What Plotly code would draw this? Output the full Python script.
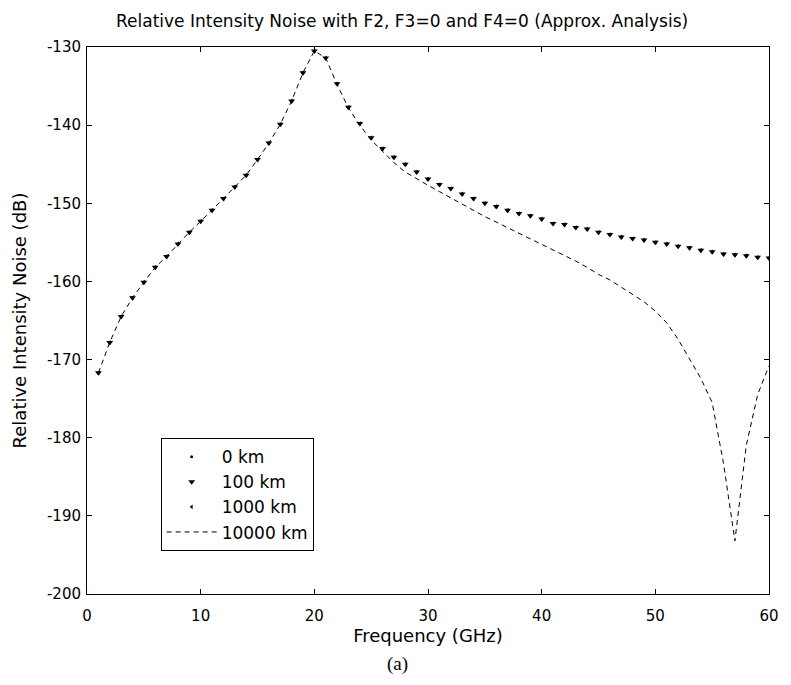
import plotly.graph_objects as go

freq = list(range(1, 61))

# 0 km, 100 km, 1000 km curves (coincide on the plot)
rin_short = [-171.7, -167.8, -164.5, -162.1, -160.1, -158.2, -156.8, -155.2, -153.7, -152.3,
             -150.9, -149.4, -147.9, -146.4, -144.4, -142.3, -139.9, -136.9, -133.3, -130.5,
             -131.4, -134.7, -137.7, -139.8, -141.6, -143.0, -144.1, -145.0, -146.0, -146.9,
             -147.6, -148.1, -148.8, -149.4, -150.0, -150.4, -150.9, -151.3, -151.6, -152.0,
             -152.6, -152.7, -153.1, -153.3, -153.7, -154.0, -154.3, -154.5, -154.7, -155.0,
             -155.2, -155.5, -155.7, -156.0, -156.2, -156.5, -156.6, -156.7, -156.9, -157.0]

rin_10000 = [-171.7, -167.8, -164.5, -162.1, -160.1, -158.2, -156.8, -155.2, -153.7, -152.3,
             -150.9, -149.4, -147.9, -146.4, -144.4, -142.3, -139.9, -136.9, -133.3, -130.5,
             -131.4, -134.8, -137.8, -140.0, -141.9, -143.4, -144.8, -146.0, -146.9, -147.7,
             -148.5, -149.3, -150.2, -151.0, -151.7, -152.4, -153.1, -153.8, -154.5, -155.2,
             -156.0, -156.7, -157.4, -158.2, -159.1, -159.8, -160.7, -161.6, -162.6, -163.8,
             -165.3, -167.4, -169.9, -172.4, -175.5, -183.3, -193.2, -181.0, -174.5, -170.8]

x_ticks = [0, 10, 20, 30, 40, 50, 60]
y_ticks = [-200, -190, -180, -170, -160, -150, -140, -130]
y_ticktext = ["-200", "-190", "-180", "-170", "-160", "-150", "-140", "-130"]

FONT = "DejaVu Sans"

fig = go.Figure()
fig.add_trace(go.Scatter(x=freq, y=rin_short, mode="markers", name="0 km",
                         marker=dict(symbol="circle", size=3, color="black")))
fig.add_trace(go.Scatter(x=freq, y=rin_short, mode="markers", name="100 km",
                         marker=dict(symbol="triangle-down", size=6, color="black")))
fig.add_trace(go.Scatter(x=freq, y=rin_short, mode="markers", name="1000 km",
                         marker=dict(symbol="triangle-left", size=4, color="black")))
fig.add_trace(go.Scatter(x=freq, y=rin_10000, mode="lines", name="10000 km",
                         line=dict(color="black", width=1, dash="5px,4px")))

axis_common = dict(showline=True, linecolor="black", linewidth=1, mirror="allticks",
                   ticks="inside", ticklen=5, tickcolor="black", showgrid=False,
                   zeroline=False, tickfont=dict(family=FONT, size=15, color="black"))

fig.update_layout(
    width=791, height=685,
    margin=dict(l=87, r=12, t=47, b=91),
    paper_bgcolor="white", plot_bgcolor="white",
    font=dict(family=FONT, color="black"),
    showlegend=True,
    legend=dict(x=0.108, y=0.285, xanchor="left", yanchor="top",
                bordercolor="black", borderwidth=1, bgcolor="white",
                itemwidth=50,
                font=dict(family=FONT, size=17), tracegroupgap=0),
    xaxis=dict(range=[0, 60], tickvals=x_ticks, ticklabelstandoff=8, **axis_common,
               title=dict(text="Frequency (GHz)", font=dict(family=FONT, size=18), standoff=4)),
    yaxis=dict(range=[-200, -130], tickvals=y_ticks, ticktext=y_ticktext, ticklabelstandoff=2,
               **axis_common,
               title=dict(text="Relative Intensity Noise (dB)", font=dict(family=FONT, size=18), standoff=15)),
)

fig.add_annotation(text="Relative Intensity Noise with F2, F3=0 and F4=0 (Approx. Analysis)",
                   xref="paper", yref="paper", x=0.462, y=1.0, yshift=14, showarrow=False,
                   yanchor="bottom", font=dict(family=FONT, size=17, color="black"))
fig.add_annotation(text="(a)", xref="paper", yref="paper", x=0.456, y=0, yshift=-57,
                   showarrow=False, yanchor="top",
                   font=dict(family="Liberation Serif", size=19, color="black"))

fig.write_html("out.html")
